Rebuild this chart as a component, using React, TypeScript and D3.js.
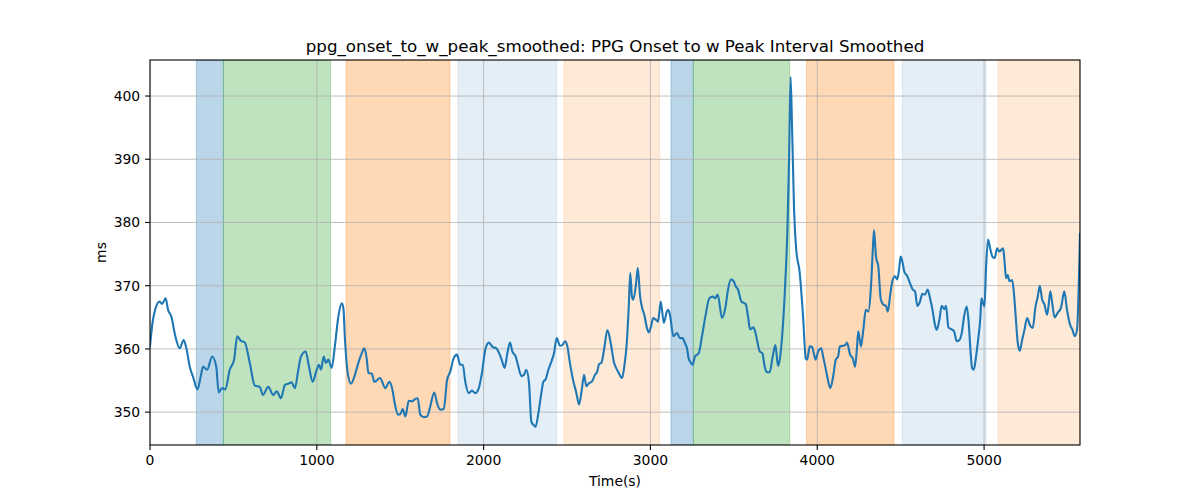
import React from "react";
import * as d3 from "d3";

const times: number[] = [
  0, 16, 32, 58, 72, 94, 108, 128, 152, 178, 202, 218, 238, 258, 284, 304, 318, 342, 373, 397,
  412, 432, 451, 478, 504, 523, 544, 568, 598, 628, 658, 677, 709, 739, 760, 785, 809, 829, 849, 869,
  889, 905, 933, 953, 975, 999, 1013, 1025, 1041, 1055, 1069, 1089, 1109, 1129, 1149, 1159, 1169, 1185, 1205, 1225,
  1249, 1269, 1285, 1299, 1309, 1329, 1345, 1379, 1411, 1435, 1451, 1467, 1487, 1501, 1515, 1531, 1551, 1571, 1591, 1605,
  1620, 1641, 1661, 1680, 1704, 1721, 1740, 1761, 1781, 1800, 1820, 1840, 1860, 1875, 1890, 1911, 1930, 1950, 1971, 1990,
  2010, 2031, 2054, 2076, 2092, 2108, 2126, 2142, 2158, 2172, 2192, 2208, 2226, 2242, 2256, 2272, 2286, 2298, 2312, 2328,
  2346, 2358, 2372, 2388, 2406, 2422, 2438, 2458, 2472, 2488, 2502, 2516, 2536, 2556, 2572, 2588, 2602, 2616, 2632, 2648,
  2668, 2681, 2692, 2706, 2722, 2742, 2762, 2782, 2794, 2810, 2830, 2843, 2858, 2870, 2879, 2889, 2897, 2914, 2924, 2938,
  2950, 2963, 2979, 2990, 3003, 3017, 3033, 3045, 3053, 3062, 3080, 3098, 3107, 3119, 3137, 3159, 3177, 3193, 3207, 3219,
  3229, 3243, 3253, 3267, 3289, 3309, 3329, 3353, 3373, 3387, 3403, 3429, 3449, 3465, 3483, 3501, 3511, 3525, 3545, 3571,
  3585, 3597, 3617, 3625, 3639, 3655, 3671, 3685, 3695, 3715, 3731, 3749, 3765, 3775, 3795, 3809, 3821, 3831, 3840, 3849,
  3861, 3873, 3895, 3915, 3931, 3939, 3955, 3969, 3981, 3991, 4005, 4024, 4035, 4048, 4060, 4078, 4095, 4111, 4125, 4135,
  4155, 4168, 4178, 4197, 4213, 4227, 4237, 4246, 4262, 4276, 4291, 4306, 4321, 4333, 4340, 4352, 4366, 4381, 4396, 4412,
  4423, 4436, 4450, 4466, 4480, 4490, 4500, 4512, 4522, 4540, 4556, 4572, 4586, 4600, 4616, 4630, 4646, 4662, 4676, 4690,
  4702, 4716, 4732, 4746, 4762, 4772, 4786, 4806, 4820, 4836, 4852, 4866, 4880, 4896, 4908, 4918, 4928, 4938, 4952, 4964,
  4978, 4984, 4994, 5002, 5012, 5024, 5038, 5052, 5064, 5078, 5092, 5104, 5114, 5122, 5132, 5142, 5152, 5168, 5178, 5188,
  5202, 5214, 5228, 5242, 5258, 5274, 5292, 5307, 5322, 5334, 5348, 5362, 5378, 5388, 5397, 5407, 5423, 5441, 5461, 5481,
  5497, 5516, 5530, 5544, 5557, 5575,
];

const values: number[] = [
  360.5, 364.3, 366.3, 367.5, 367.1, 368.0, 366.2, 365.1, 362.0, 360.1, 361.4, 360.1, 357.2, 355.6, 353.6, 355.6, 357.2, 356.7, 358.8, 357.2,
  353.1, 353.8, 353.6, 356.7, 358.3, 362.0, 361.3, 361.0, 357.8, 354.2, 354.0, 352.7, 354.0, 352.7, 353.3, 352.2, 354.3, 354.5, 354.7, 353.8,
  356.7, 358.8, 359.6, 357.2, 354.8, 356.7, 357.5, 356.7, 358.8, 357.8, 358.3, 357.0, 360.6, 365.1, 367.2, 366.5, 361.4, 356.2, 354.5, 355.6,
  357.8, 359.3, 360.1, 358.5, 356.2, 356.1, 354.8, 355.4, 353.8, 354.8, 353.8, 351.4, 349.6, 349.7, 350.5, 349.3, 351.8, 351.7, 352.1, 352.2,
  349.6, 349.2, 349.3, 350.9, 353.1, 351.4, 350.4, 350.5, 355.1, 356.4, 358.5, 359.1, 357.5, 357.5, 354.8, 353.0, 353.4, 353.0, 353.8, 356.2,
  359.9, 361.0, 360.3, 360.1, 359.4, 358.3, 357.0, 359.3, 361.0, 359.6, 358.8, 357.2, 355.7, 355.9, 356.7, 354.6, 348.5, 348.0, 347.7, 349.8,
  353.0, 354.8, 355.2, 356.7, 358.0, 359.3, 361.7, 360.5, 360.6, 361.2, 360.4, 358.0, 355.1, 353.0, 351.2, 353.5, 355.9, 354.1, 354.6, 354.8,
  355.9, 356.4, 357.6, 357.8, 359.9, 363.0, 360.9, 357.8, 357.0, 356.2, 355.4, 357.2, 360.9, 366.7, 372.0, 368.3, 367.8, 370.4, 372.8, 368.3,
  366.5, 365.4, 363.3, 362.6, 363.5, 364.9, 364.6, 364.3, 365.7, 367.5, 364.1, 365.9, 366.2, 365.1, 362.0, 362.5, 361.7, 361.7, 360.9, 360.1,
  358.5, 357.8, 357.5, 358.8, 359.3, 362.0, 365.1, 368.0, 368.3, 368.0, 368.6, 364.9, 366.5, 369.4, 371.0, 370.6, 369.9, 369.4, 367.5, 367.1,
  365.1, 363.1, 363.4, 363.0, 361.4, 359.6, 359.3, 357.2, 356.4, 356.3, 358.5, 360.6, 357.3, 358.3, 364.1, 370.9, 378.8, 390.0, 403.0, 395.0,
  382.0, 376.0, 372.0, 365.1, 358.5, 358.3, 360.4, 360.3, 359.1, 358.3, 359.6, 360.1, 358.8, 357.2, 355.6, 353.8, 355.6, 358.3, 358.8, 360.4,
  360.5, 360.6, 361.0, 359.1, 358.5, 357.2, 359.9, 362.8, 360.4, 363.0, 366.2, 365.9, 369.4, 375.7, 378.8, 374.6, 373.0, 367.8, 367.0, 366.8,
  365.9, 368.3, 370.7, 371.5, 371.0, 372.5, 374.6, 373.6, 372.2, 371.5, 370.4, 369.4, 369.1, 366.8, 367.5, 368.7, 368.6, 369.4, 368.0, 366.3,
  364.3, 363.0, 364.6, 366.8, 366.3, 366.8, 363.4, 363.1, 362.8, 361.2, 361.4, 362.5, 365.1, 366.7, 364.1, 359.9, 357.0, 356.7, 358.8, 361.4,
  365.1, 368.0, 367.2, 366.7, 373.0, 377.3, 375.7, 374.5, 374.4, 375.9, 375.4, 375.7, 375.9, 374.1, 371.2, 371.7, 370.7, 370.9, 369.1, 365.7,
  360.9, 359.7, 361.4, 363.0, 364.9, 363.8, 363.3, 366.5, 368.3, 370.0, 367.8, 367.0, 365.4, 367.2, 369.1, 367.5, 365.0, 365.7, 366.5, 369.1,
  366.2, 363.8, 363.0, 362.0, 363.0, 378.2,
];

const spanStarts: number[] = [278, 440, 1175, 1846, 2482, 3123, 3257, 3935, 4510, 5084];
const spanEnds: number[] = [440, 1083, 1798, 2438, 3055, 3257, 3835, 4460, 5012, 5575];
const spanColors: string[] = ["#1f77b4", "#2ca02c", "#ff7f0e", "#1f77b4", "#ff7f0e", "#1f77b4", "#2ca02c", "#ff7f0e", "#1f77b4", "#ff7f0e"];
const spanAlphas: number[] = [0.3, 0.3, 0.3, 0.12, 0.16, 0.3, 0.3, 0.3, 0.12, 0.16];

const xTicks: number[] = [0, 1000, 2000, 3000, 4000, 5000];
const yTicks: number[] = [350, 360, 370, 380, 390, 400];

const title = "ppg_onset_to_w_peak_smoothed: PPG Onset to w Peak Interval Smoothed";
const xLabel = "Time(s)";
const yLabel = "ms";

export default function App() {
  const W = 1200, H = 500;
  const left = 150, right = 1080, top = 60, bottom = 445;
  const x = d3.scaleLinear().domain([0, 5575]).range([left, right]);
  const y = d3.scaleLinear().domain([344.8, 405.7]).range([bottom, top]);
  const pts: [number, number][] = times.map((t, i) => [t, values[i]]);
  const line = d3
    .line<[number, number]>()
    .x((d) => x(d[0]))
    .y((d) => y(d[1]))
    .curve(d3.curveMonotoneX);
  const font = "'DejaVu Sans', sans-serif";
  const tickLen = 4.9;
  return (
    <svg width={W} height={H} style={{ position: "absolute", left: 0, top: 0, background: "#fff" }} fontFamily={font}>
      <rect x={0} y={0} width={W} height={H} fill="#fff" />
      <defs>
        <clipPath id="plotclip">
          <rect x={left} y={top} width={right - left} height={bottom - top} />
        </clipPath>
      </defs>
      <g clipPath="url(#plotclip)">
        {spanStarts.map((s, i) => (
          <rect
            key={"s" + i}
            x={x(s)}
            y={top}
            width={x(spanEnds[i]) - x(s)}
            height={bottom - top}
            fill={spanColors[i]}
            fillOpacity={spanAlphas[i]}
            stroke={spanColors[i]}
            strokeOpacity={spanAlphas[i]}
            strokeWidth={1}
          />
        ))}
        {xTicks.map((t) => (
          <line key={"gx" + t} x1={x(t)} x2={x(t)} y1={top} y2={bottom} stroke="#b0b0b0" strokeWidth={0.8} />
        ))}
        {yTicks.map((t) => (
          <line key={"gy" + t} x1={left} x2={right} y1={y(t)} y2={y(t)} stroke="#b0b0b0" strokeWidth={0.8} />
        ))}
        <path d={line(pts) || ""} fill="none" stroke="#1f77b4" strokeWidth={2.1} strokeLinejoin="round" strokeLinecap="square" />
      </g>
      <rect x={left} y={top} width={right - left} height={bottom - top} fill="none" stroke="#000" strokeWidth={1.1} />
      {xTicks.map((t) => (
        <g key={"xt" + t}>
          <line x1={x(t)} x2={x(t)} y1={bottom} y2={bottom + tickLen} stroke="#000" strokeWidth={1.1} />
          <text x={x(t)} y={bottom + tickLen + 4.9 + 10.6} textAnchor="middle" fontSize={13.9} fill="#000">
            {t}
          </text>
        </g>
      ))}
      {yTicks.map((t) => (
        <g key={"yt" + t}>
          <line x1={left - tickLen} x2={left} y1={y(t)} y2={y(t)} stroke="#000" strokeWidth={1.1} />
          <text x={left - tickLen - 4.9} y={y(t)} dy="0.35em" textAnchor="end" fontSize={13.9} fill="#000">
            {t}
          </text>
        </g>
      ))}
      <text x={(left + right) / 2} y={486} textAnchor="middle" fontSize={13.9} fill="#000">
        {xLabel}
      </text>
      <text transform={`translate(106, ${(top + bottom) / 2}) rotate(-90)`} textAnchor="middle" fontSize={13.9} fill="#000">
        {yLabel}
      </text>
      <text x={(left + right) / 2} y={52} textAnchor="middle" fontSize={16.7} fill="#000">
        {title}
      </text>
    </svg>
  );
}
